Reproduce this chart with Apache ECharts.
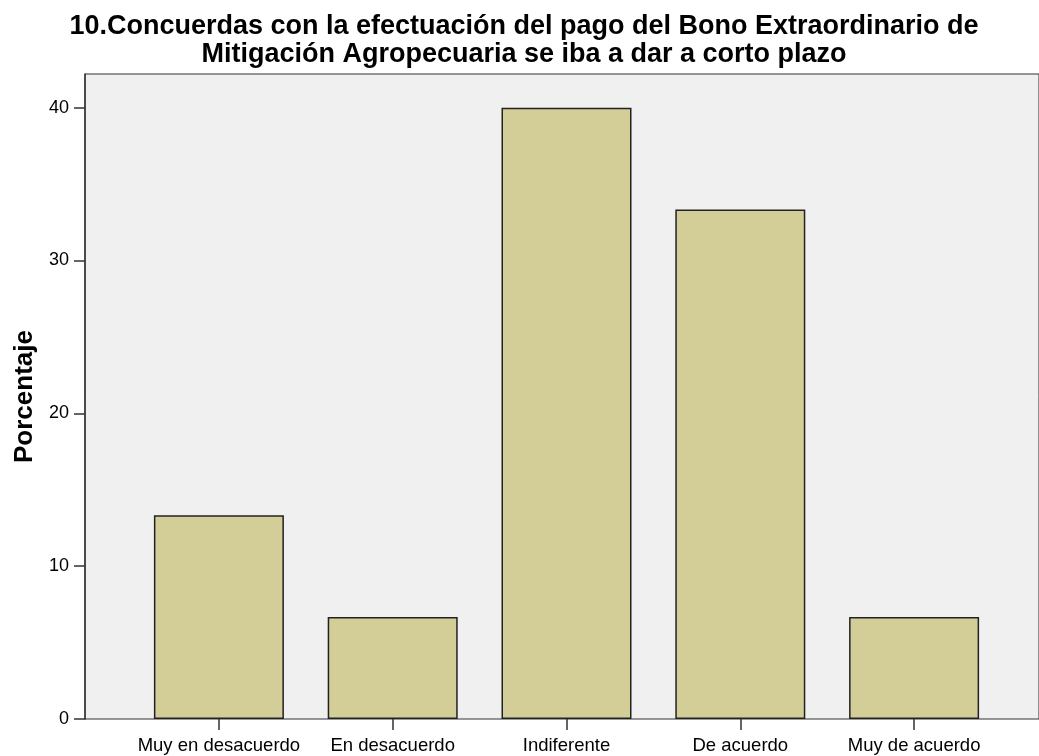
<!DOCTYPE html>
<html>
<head>
<meta charset="utf-8">
<script src="https://cdn.jsdelivr.net/npm/echarts@6/dist/echarts.min.js"></script>
<style>
  html, body { margin: 0; padding: 0; background: #fff; }
  #chart { width: 1039px; height: 756px; }
</style>
</head>
<body>
<div id="chart"></div>
<script>
const categories = ['Muy en desacuerdo', 'En desacuerdo', 'Indiferente', 'De acuerdo', 'Muy de acuerdo'];
const percentages = [13.33, 6.67, 40.0, 33.33, 6.67];
const yTicks = [0, 10, 20, 30, 40];

const titleLines = [
  '10.Concuerdas con la efectuación del pago del Bono Extraordinario de',
  'Mitigación Agropecuaria se iba a dar a corto plazo'
];

const font = 'Liberation Sans, Arial, sans-serif';
const yMax = 42.2;

const chart = echarts.init(document.getElementById('chart'));
chart.setOption({
  animation: false,
  title: {
    text: titleLines.join('\n'),
    left: 519,
    top: 7,
    textAlign: 'center',
    textStyle: { fontFamily: font, fontSize: 27, fontWeight: 'bold', color: '#000', lineHeight: 28.5 }
  },
  grid: [
    { left: 85, right: -3, top: 74, bottom: 37, show: true, backgroundColor: '#f0f0f0', borderColor: '#333', borderWidth: 1 },
    { left: 132, right: 38, top: 74, bottom: 37 }
  ],
  xAxis: [
    { gridIndex: 0, type: 'value', min: 0, max: 1, axisLine: { show: false }, axisTick: { show: false }, axisLabel: { show: false }, splitLine: { show: false } },
    {
      gridIndex: 1,
      type: 'category',
      data: categories,
      axisLine: { show: false },
      axisTick: { show: true, alignWithLabel: true, length: 11, lineStyle: { color: '#333', width: 1.5 } },
      axisLabel: { fontFamily: font, fontSize: 18.5, color: '#000', margin: 17, interval: 0 },
      splitLine: { show: false }
    }
  ],
  yAxis: [
    {
      gridIndex: 0,
      type: 'value',
      min: 0,
      max: yMax,
      interval: 10,
      name: 'Porcentaje',
      nameLocation: 'middle',
      nameGap: 47,
      nameTextStyle: { fontFamily: font, fontSize: 26, fontWeight: 'bold', color: '#000' },
      axisLine: { show: true, lineStyle: { color: '#333', width: 1.5 } },
      axisTick: { show: true, length: 11, customValues: yTicks, lineStyle: { color: '#333', width: 1.5 } },
      axisLabel: {
        fontFamily: font, fontSize: 18, color: '#000', margin: 16,
        customValues: yTicks
      },
      splitLine: { show: false }
    },
    { gridIndex: 1, type: 'value', min: 0, max: yMax, interval: 10, show: false }
  ],
  series: [{
    type: 'bar',
    xAxisIndex: 1,
    yAxisIndex: 1,
    data: percentages,
    barWidth: 130,
    itemStyle: { color: '#d3ce98', borderColor: '#222', borderWidth: 1.5 }
  }]
});
</script>
</body>
</html>
